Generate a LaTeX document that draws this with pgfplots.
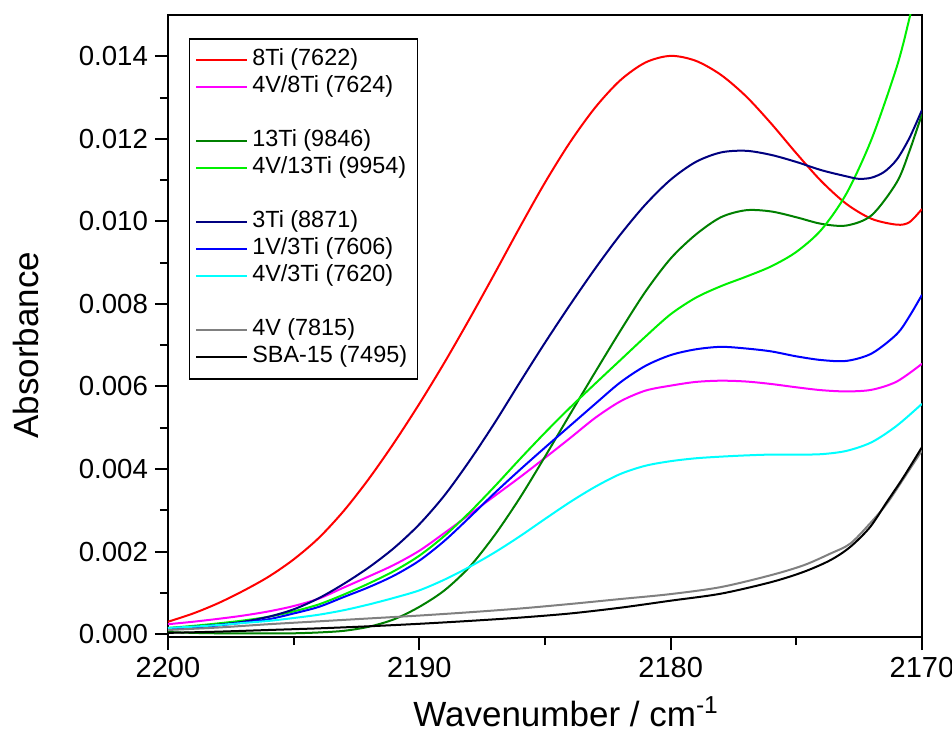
\documentclass[border=0pt]{standalone}
\usepackage{fontspec}
\setmainfont{Liberation Sans}
\usepackage{pgfplots}
\pgfplotsset{compat=1.18}

\definecolor{cRed}{RGB}{255,0,0}
\definecolor{cMag}{RGB}{255,0,255}
\definecolor{cDkGreen}{RGB}{0,128,0}
\definecolor{cLtGreen}{RGB}{0,240,0}
\definecolor{cNavy}{RGB}{0,0,128}
\definecolor{cBlue}{RGB}{0,0,255}
\definecolor{cCyan}{RGB}{0,255,255}
\definecolor{cGray}{RGB}{128,128,128}

\begin{document}
\begin{tikzpicture}
\useasboundingbox (-84pt,-51.5pt) rectangle (392pt,318.5pt);
\begin{axis}[
  at={(0,0)}, anchor=south west,
  scale only axis, width=377pt, height=311pt,
  x dir=reverse, xmin=2170, xmax=2200, ymin=-0.00007, ymax=0.015,
  xtick={2170,2180,2190,2200}, ytick={0,0.002,...,0.0141},
  minor x tick num=1, minor y tick num=1,
  xtick pos=bottom, ytick pos=left, tick align=outside,
  major tick length=6.5pt, minor tick length=4pt,
  every tick/.style={line width=1pt, black},
  axis line style={line width=1pt},
  scaled y ticks=false,
  /pgf/number format/assume math mode=true,
  yticklabel style={font=\fontsize{13.8}{16}\selectfont,
    /pgf/number format/.cd, fixed, fixed zerofill, precision=3},
  xticklabel style={font=\fontsize{14.5}{17}\selectfont,
    /pgf/number format/.cd, set thousands separator={}},
  label style={font=\fontsize{17.5}{20}\selectfont},
  xlabel={Wavenumber / cm\textsuperscript{-1}},
  ylabel={Absorbance},
  xlabel style={at={(axis description cs:0.528,0)}, anchor=center, yshift=-37.5pt},
  ylabel style={at={(axis description cs:-0.1883,0.469)}, anchor=center},
  every axis plot/.append style={line width=1pt, smooth, no markers},
  legend image code/.code={\draw[#1, line width=1pt] (0pt,0pt) -- (25.5pt,0pt);},
  legend cell align=left,
  legend style={at={(axis description cs:0.0275,0.9625)}, anchor=north west,
    draw=black, line width=0.6pt, font=\fontsize{11.7}{13.5}\selectfont,
    inner xsep=3pt, inner ysep=4pt, row sep=0pt,
    nodes={inner ysep=1pt, text height=8.5pt, text depth=3pt}},
]
% 8Ti (7622)
\addplot[cRed] coordinates {
(2200,0.00030) (2199,0.00050) (2198,0.00075) (2197,0.00105) (2196,0.00139)
(2195,0.00181) (2194,0.00233) (2193,0.00299) (2192,0.00377) (2191,0.00464)
(2190,0.00558) (2189,0.00658) (2188,0.00764) (2187,0.00874) (2186,0.00986)
(2185,0.01094) (2184,0.01192) (2183,0.01276) (2182,0.01342) (2181,0.01385)
(2180,0.01401) (2179,0.01389) (2178,0.01355) (2177,0.01303) (2176,0.01237)
(2175,0.01165) (2174,0.01097) (2173,0.01042) (2172,0.01006) (2171,0.00992)
(2170.5,0.00998) (2170,0.01030)};
\addlegendentry{8Ti (7622)}
% 4V/8Ti (7624)
\addplot[cMag] coordinates {
(2200,0.00024) (2199,0.00030) (2198,0.00037) (2197,0.00045) (2196,0.00055)
(2195,0.00068) (2194,0.00086) (2193,0.00113) (2192,0.00140) (2191,0.00168)
(2190,0.00202) (2189,0.00245) (2188,0.00290) (2187,0.00335) (2186,0.00380)
(2185,0.00427) (2184,0.00475) (2183,0.00524) (2182,0.00564) (2181,0.00590)
(2180,0.00602) (2179,0.00611) (2178,0.00614) (2177,0.00612) (2176,0.00606)
(2175,0.00598) (2174,0.00591) (2173,0.00588) (2172,0.00592) (2171,0.00612)
(2170,0.00655)};
\addlegendentry{4V/8Ti (7624)}
\addlegendimage{empty legend}\addlegendentry{}
% 13Ti (9846)
\addplot[cDkGreen] coordinates {
(2200,0.00005) (2199,0.00003) (2198,0.00002) (2197,0.00002) (2196,0.00002)
(2195,0.00002) (2194,0.00004) (2193,0.00008) (2192,0.00018) (2191,0.00036)
(2190,0.00066) (2189,0.00106) (2188,0.00163) (2187,0.00240) (2186,0.00330)
(2185,0.00430) (2184,0.00533) (2183,0.00635) (2182,0.00735) (2181,0.00830)
(2180,0.00910) (2179,0.00968) (2178,0.01010) (2177,0.01027) (2176,0.01024)
(2175,0.01010) (2174,0.00994) (2173,0.00990) (2172,0.01015) (2171,0.01095)
(2170.5,0.01170) (2170,0.01260)};
\addlegendentry{13Ti (9846)}
% 4V/13Ti (9954)
\addplot[cLtGreen] coordinates {
(2200,0.00015) (2199,0.00020) (2198,0.00026) (2197,0.00033) (2196,0.00042)
(2195,0.00055) (2194,0.00072) (2193,0.00096) (2192,0.00123) (2191,0.00153)
(2190,0.00190) (2189,0.00238) (2188,0.00295) (2187,0.00358) (2186,0.00424)
(2185,0.00488) (2184,0.00549) (2183,0.00607) (2182,0.00664) (2181,0.00721)
(2180,0.00775) (2179,0.00815) (2178,0.00843) (2177,0.00866) (2176,0.00891)
(2175,0.00926) (2174,0.00980) (2173,0.01068) (2172,0.01200) (2171,0.01375)
(2170.5,0.01492) (2170.2,0.01575)};
\addlegendentry{4V/13Ti (9954)}
\addlegendimage{empty legend}\addlegendentry{}
% 3Ti (8871)
\addplot[cNavy] coordinates {
(2200,0.00014) (2199,0.00018) (2198,0.00023) (2197,0.00030) (2196,0.00042)
(2195,0.00060) (2194,0.00087) (2193,0.00122) (2192,0.00162) (2191,0.00209)
(2190,0.00266) (2189,0.00336) (2188,0.00420) (2187,0.00512) (2186,0.00610)
(2185,0.00706) (2184,0.00798) (2183,0.00886) (2182,0.00968) (2181,0.01041)
(2180,0.01101) (2179,0.01144) (2178,0.01167) (2177,0.01171) (2176,0.01161)
(2175,0.01144) (2174,0.01124) (2173,0.01109) (2172.5,0.01103) (2172,0.01106)
(2171.5,0.01120) (2171,0.01150) (2170.5,0.01202) (2170,0.01270)};
\addlegendentry{3Ti (8871)}
% 1V/3Ti (7606)
\addplot[cBlue] coordinates {
(2200,0.00012) (2199,0.00016) (2198,0.00021) (2197,0.00028) (2196,0.00036)
(2195,0.00050) (2194,0.00066) (2193,0.00090) (2192,0.00114) (2191,0.00142)
(2190,0.00178) (2189,0.00226) (2188,0.00283) (2187,0.00342) (2186,0.00398)
(2185,0.00452) (2184,0.00505) (2183,0.00558) (2182,0.00610) (2181,0.00650)
(2180,0.00676) (2179,0.00690) (2178,0.00696) (2177,0.00692) (2176,0.00685)
(2175,0.00673) (2174,0.00664) (2173,0.00662) (2172,0.00680) (2171,0.00727)
(2170.5,0.00770) (2170,0.00822)};
\addlegendentry{1V/3Ti (7606)}
% 4V/3Ti (7620)
\addplot[cCyan] coordinates {
(2200,0.00015) (2199,0.00018) (2198,0.00022) (2197,0.00027) (2196,0.00032)
(2195,0.00039) (2194,0.00047) (2193,0.00058) (2192,0.00072) (2191,0.00088)
(2190,0.00106) (2189,0.00132) (2188,0.00163) (2187,0.00198) (2186,0.00237)
(2185,0.00279) (2184,0.00320) (2183,0.00357) (2182,0.00388) (2181,0.00408)
(2180,0.00419) (2179,0.00426) (2178,0.00430) (2177,0.00433) (2176,0.00435)
(2175,0.00435) (2174,0.00436) (2173,0.00444) (2172,0.00465) (2171,0.00505)
(2170,0.00558)};
\addlegendentry{4V/3Ti (7620)}
\addlegendimage{empty legend}\addlegendentry{}
% 4V (7815)
\addplot[cGray] coordinates {
(2200,0.00010) (2198,0.00016) (2196,0.00024) (2194,0.00031) (2192,0.00038)
(2190,0.00045) (2188,0.00053) (2186,0.00062) (2184,0.00073) (2182,0.00085)
(2180,0.00097) (2178,0.00114) (2176,0.00143) (2174.7,0.00167) (2173.65,0.00195)
(2172.86,0.00219) (2172.07,0.00268) (2171.4,0.00316) (2170.74,0.00376) (2170,0.00445)};
\addlegendentry{4V (7815)}
% SBA-15 (7495)
\addplot[black] coordinates {
(2200,0.00003) (2198,0.00006) (2196,0.00010) (2194,0.00014) (2192,0.00019)
(2190,0.00025) (2188,0.00032) (2186,0.00040) (2184,0.00050) (2182,0.00064)
(2180,0.00081) (2178,0.00098) (2176,0.00126) (2174.7,0.00151) (2173.65,0.00179)
(2172.86,0.00211) (2172.07,0.00259) (2171.4,0.00320) (2170.74,0.00380) (2170,0.00453)};
\addlegendentry{SBA-15 (7495)}
\end{axis}
\end{tikzpicture}
\end{document}
